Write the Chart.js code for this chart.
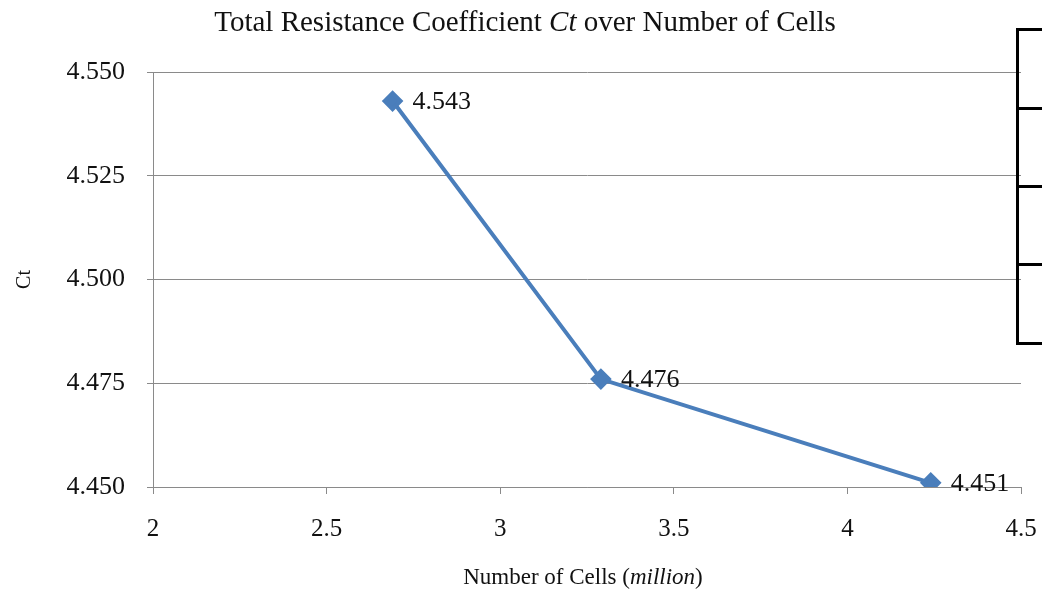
<!DOCTYPE html>
<html>
<head>
<meta charset="utf-8">
<script src="https://cdn.jsdelivr.net/npm/chart.js@4.4.1/dist/chart.umd.min.js"></script>
<style>
  body { margin: 0; background: #fff; overflow: hidden; }
  #wrap { position: relative; width: 1042px; height: 595px; }
  #box { position: absolute; left: 1016px; top: 28px; width: 60px; height: 311px; border: 3px solid #000; }
  .row { position: absolute; left: 0; right: 0; border-top: 3px solid #000; }
</style>
</head>
<body>
<div id="wrap">
  <canvas id="ct-chart" width="1042" height="595"></canvas>
  <div id="box">
    <div class="row" style="top:76px"></div>
    <div class="row" style="top:154px"></div>
    <div class="row" style="top:232px"></div>
  </div>
</div>
<script>
// values
var cells = [2.69, 3.29, 4.24];          // million cells
var ct = [4.543, 4.476, 4.451];
var xTicks = [2, 2.5, 3, 3.5, 4, 4.5];
var yTicks = [4.450, 4.475, 4.500, 4.525, 4.550];

var serif = "'Liberation Serif', 'Times New Roman', serif";
var gridColor = '#8a8a8a';

var points = cells.map(function(c, i) { return { x: c, y: ct[i] }; });

// draws a line of text made of plain / italic pieces, centred on cx
function drawRich(ctx, parts, cx, cy, size) {
  var total = 0;
  parts.forEach(function(p) {
    ctx.font = (p.italic ? 'italic ' : '') + size + 'px ' + serif;
    p.w = ctx.measureText(p.text).width;
    total += p.w;
  });
  var x = cx - total / 2;
  ctx.textBaseline = 'middle';
  ctx.textAlign = 'left';
  parts.forEach(function(p) {
    ctx.font = (p.italic ? 'italic ' : '') + size + 'px ' + serif;
    ctx.fillText(p.text, x, cy);
    x += p.w;
  });
}

var textPlugin = {
  id: 'texts',
  afterDatasetsDraw: function(chart) {
    var ctx = chart.ctx;
    ctx.save();
    ctx.fillStyle = '#111';
    // point labels
    ctx.font = '26px ' + serif;
    ctx.textBaseline = 'middle';
    ctx.textAlign = 'left';
    chart.getDatasetMeta(0).data.forEach(function(pt, i) {
      ctx.fillText(ct[i].toFixed(3), pt.x + 20, pt.y + 1);
    });
    // chart title
    drawRich(ctx, [
      { text: 'Total Resistance Coefficient ' },
      { text: 'Ct', italic: true },
      { text: ' over Number of Cells' }
    ], 525, 23, 29);
    // x axis title
    drawRich(ctx, [
      { text: 'Number of Cells (' },
      { text: 'million', italic: true },
      { text: ')' }
    ], 583, 578, 23);
    ctx.restore();
  }
};

new Chart(document.getElementById('ct-chart'), {
  type: 'scatter',
  data: {
    datasets: [{
      label: 'Ct',
      data: points,
      showLine: true,
      borderColor: '#4a7ebb',
      backgroundColor: '#4a7ebb',
      borderWidth: 4,
      pointStyle: 'rectRot',
      pointRadius: 8,
      pointHoverRadius: 8
    }]
  },
  options: {
    responsive: false,
    animation: false,
    layout: { padding: { top: 72, right: 21, left: 0, bottom: 0 } },
    plugins: {
      legend: { display: false },
      title: { display: false },
      tooltip: { enabled: false }
    },
    scales: {
      x: {
        type: 'linear',
        min: xTicks[0],
        max: xTicks[xTicks.length - 1],
        afterBuildTicks: function(scale) {
          scale.ticks = xTicks.map(function(v) { return { value: v }; });
        },
        afterFit: function(scale) {
          scale.height = 108;
          scale.paddingLeft = 0;
          scale.paddingRight = 0;
        },
        grid: { drawOnChartArea: false, drawTicks: true, tickLength: 7, color: gridColor },
        border: { display: true, color: gridColor, width: 1 },
        ticks: {
          padding: 20,
          color: '#111',
          font: { family: serif, size: 25 },
          maxRotation: 0,
          callback: function(v) { return String(v); }
        }
      },
      y: {
        min: yTicks[0],
        max: yTicks[yTicks.length - 1],
        afterBuildTicks: function(scale) {
          scale.ticks = yTicks.map(function(v) { return { value: v }; });
        },
        afterFit: function(scale) { scale.width = 153; },
        grid: { color: gridColor, tickLength: 6, drawTicks: true },
        border: { display: true, color: gridColor, width: 1 },
        ticks: {
          padding: 22,
          color: '#111',
          font: { family: serif, size: 26 },
          callback: function(v) { return Number(v).toFixed(3); }
        },
        title: {
          display: true,
          text: 'Ct',
          color: '#111',
          font: { family: serif, size: 20 },
          padding: { top: 13, bottom: 0 }
        }
      }
    }
  },
  plugins: [textPlugin]
});
</script>
</body>
</html>
